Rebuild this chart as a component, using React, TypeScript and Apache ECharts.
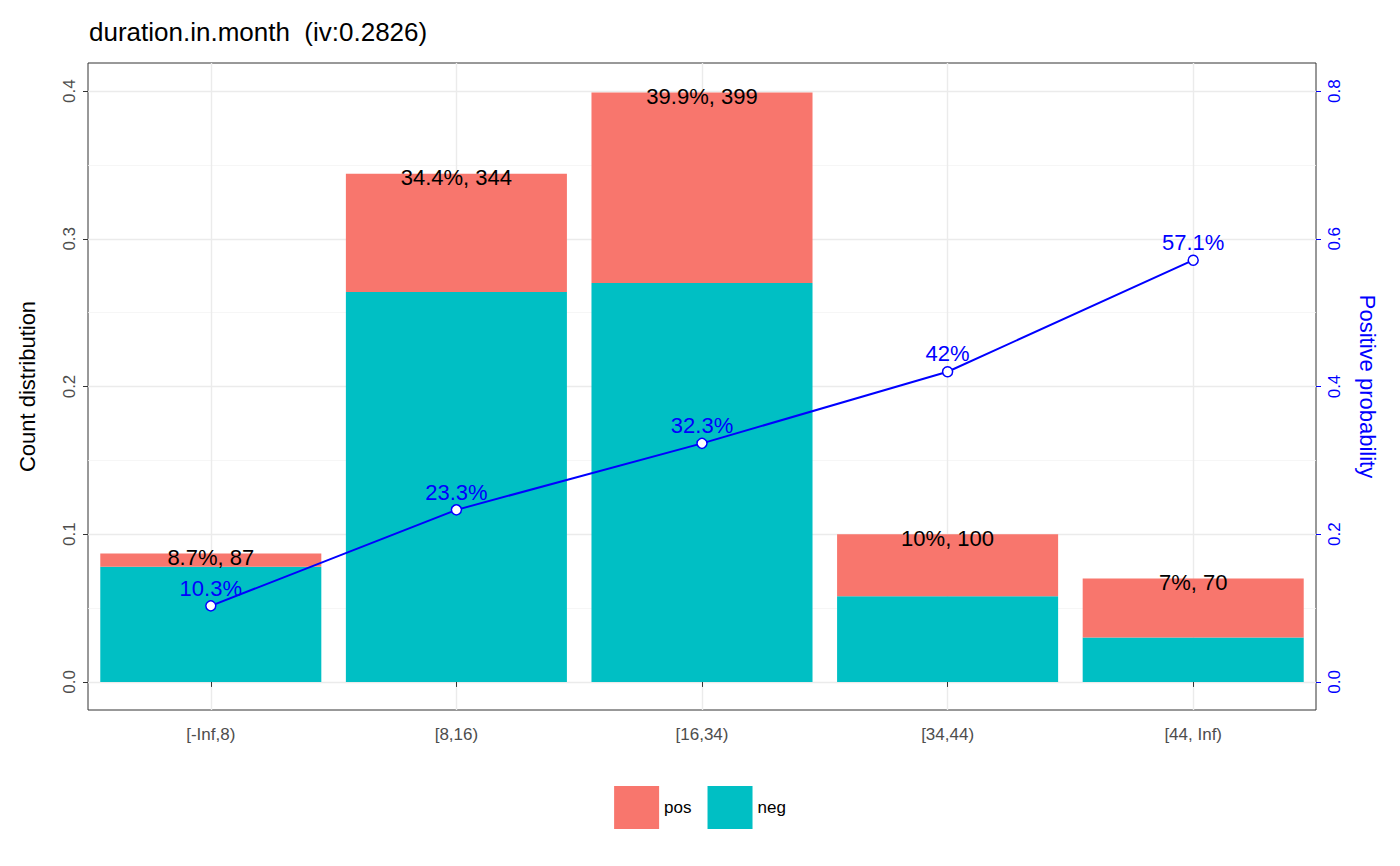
import React, { useEffect, useRef } from "react";
import * as echarts from "echarts";

const categories = ["[-Inf,8)", "[8,16)", "[16,34)", "[34,44)", "[44, Inf)"];
const negValues = [0.078, 0.264, 0.27, 0.058, 0.03];
const posValues = [0.009, 0.08, 0.129, 0.042, 0.04];
const totalLabels = ["8.7%, 87", "34.4%, 344", "39.9%, 399", "10%, 100", "7%, 70"];
const posProb = [0.103, 0.233, 0.323, 0.42, 0.571];
const probLabels = ["10.3%", "23.3%", "32.3%", "42%", "57.1%"];
const leftTicks = [0, 0.1, 0.2, 0.3, 0.4];
const leftMinor = [0.05, 0.15, 0.25, 0.35];
const rightTicks = [0, 0.2, 0.4, 0.6, 0.8];

const App: React.FC = () => {
  const chartRef = useRef<HTMLDivElement>(null);

  useEffect(() => {
    if (!chartRef.current) return;
    const chart = echarts.init(chartRef.current, undefined, { renderer: "svg" });
    const font = "Arial, 'Liberation Sans', sans-serif";

    const gridLines = [
      ...leftTicks.map((v) => ({ yAxis: v, lineStyle: { color: "#EBEBEB", width: 1.4, type: "solid" } })),
      ...leftMinor.map((v) => ({ yAxis: v, lineStyle: { color: "#F4F4F4", width: 0.8, type: "solid" } })),
      ...categories.map((c) => ({ xAxis: c, lineStyle: { color: "#EBEBEB", width: 1.4, type: "solid" } })),
    ];

    chart.setOption({
      animation: false,
      textStyle: { fontFamily: font },
      title: {
        text: "duration.in.month  (iv:0.2826)",
        left: 76,
        top: 6,
        textStyle: { fontSize: 26, fontWeight: "normal", color: "#000", fontFamily: font },
      },
      legend: {
        bottom: 24,
        left: "center",
        itemWidth: 45,
        itemHeight: 43,
        itemGap: 16,
        icon: "rect",
        data: ["pos", "neg"],
        textStyle: { fontSize: 17, color: "#000", fontFamily: font },
      },
      grid: {
        left: 77,
        right: 76,
        top: 55,
        bottom: 148,
        show: true,
        borderColor: "#333333",
        borderWidth: 1,
        backgroundColor: "transparent",
      },
      xAxis: {
        type: "category",
        data: categories,
        axisLine: { show: false },
        axisTick: { show: true, alignWithLabel: true, length: 5, lineStyle: { color: "#333" } },
        axisLabel: { fontSize: 17, color: "#4D4D4D", margin: 16 },
        splitLine: { show: false },
      },
      yAxis: [
        {
          type: "value",
          min: -0.019,
          max: 0.419,
          name: "Count distribution",
          nameLocation: "middle",
          nameGap: 50,
          nameTextStyle: { fontSize: 22, color: "#000" },
          splitLine: { show: false },
          axisLine: { show: false },
          axisTick: { show: true, customValues: leftTicks, length: 5, lineStyle: { color: "#333" } },
          axisLabel: {
            customValues: leftTicks,
            rotate: 90,
            fontSize: 17,
            color: "#4D4D4D",
            margin: 10,
            formatter: (v: number) => v.toFixed(1),
          },
        },
        {
          type: "value",
          min: -0.038,
          max: 0.838,
          name: "Positive probability",
          nameLocation: "middle",
          nameRotate: -90,
          nameGap: 40,
          nameTextStyle: { fontSize: 22, color: "#0000FF" },
          splitLine: { show: false },
          axisLine: { show: false },
          axisTick: { show: true, customValues: rightTicks, length: 5, lineStyle: { color: "#0000FF" } },
          axisLabel: {
            customValues: rightTicks,
            rotate: 90,
            fontSize: 17,
            color: "#0000FF",
            margin: 10,
            formatter: (v: number) => v.toFixed(1),
          },
        },
      ],
      series: [
        {
          name: "neg",
          type: "bar",
          stack: "total",
          data: negValues,
          barCategoryGap: "10%",
          itemStyle: { color: "#00BFC4" },
          markLine: { silent: true, symbol: "none", label: { show: false }, data: gridLines, z: 0 },
          z: 2,
        },
        {
          name: "pos",
          type: "bar",
          stack: "total",
          data: posValues,
          itemStyle: { color: "#F8766D" },
          label: {
            show: true,
            position: "insideTop",
            offset: [0, -12],
            fontSize: 22,
            color: "#000",
            formatter: (p: any) => totalLabels[p.dataIndex],
          },
          z: 2,
        },
        {
          name: "prob",
          type: "line",
          yAxisIndex: 1,
          data: posProb,
          symbol: "circle",
          symbolSize: 10,
          itemStyle: { color: "#FFFFFF", borderColor: "#0000FF", borderWidth: 1.5 },
          lineStyle: { color: "#0000FF", width: 2 },
          label: {
            show: true,
            position: "top",
            distance: 1,
            fontSize: 22,
            color: "#0000FF",
            formatter: (p: any) => probLabels[p.dataIndex],
          },
          z: 5,
        },
      ],
    });

    return () => chart.dispose();
  }, []);

  return <div ref={chartRef} style={{ width: 1384, height: 850 }} />;
};

export default App;
